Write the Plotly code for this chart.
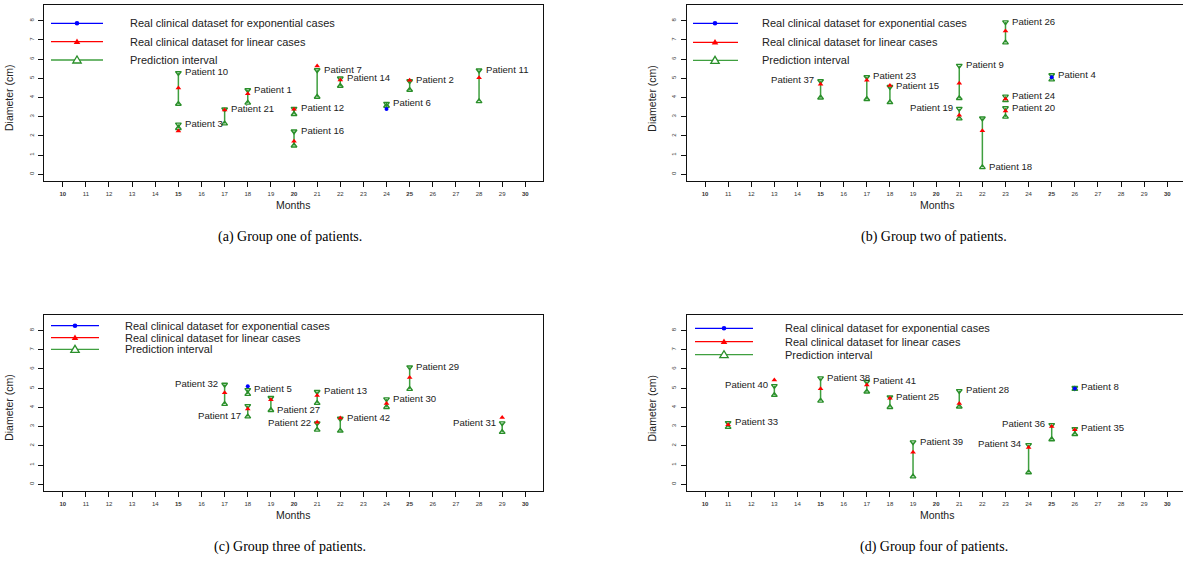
import plotly.graph_objects as go

W, H = 1183, 567

# ---------------- data ----------------
months_ticks = list(range(10, 31))
y_ticks = list(range(0, 9))

patients_a = [10, 3, 21, 1, 12, 16, 7, 14, 6, 2, 11]
months_a = [15, 15, 17, 18, 20, 20, 21, 22, 24, 25, 28]
lower_a = [3.66, 2.40, 2.64, 3.72, 3.13, 1.49, 4.03, 4.60, 3.56, 4.39, 3.80]
upper_a = [5.28, 2.60, 3.39, 4.39, 3.42, 2.24, 5.43, 5.00, 3.68, 4.86, 5.42]
real_a = [4.50, 2.26, 3.35, 4.20, 3.39, 1.72, 5.64, 4.91, 3.40, 4.90, 5.03]
model_a = ["lin", "lin", "lin", "lin", "lin", "lin", "lin", "lin", "exp", "lin", "lin"]

patients_b = [37, 23, 15, 9, 19, 18, 26, 24, 20, 4]
months_b = [15, 17, 18, 21, 21, 22, 23, 23, 23, 25]
lower_b = [3.99, 3.91, 3.75, 3.96, 2.90, 0.36, 6.86, 3.85, 2.99, 4.93]
upper_b = [4.86, 5.07, 4.56, 5.66, 3.42, 2.92, 7.93, 4.06, 3.45, 5.17]
real_b = [4.69, 4.90, 4.62, 4.74, 3.07, 2.27, 7.47, 3.92, 3.30, 5.05]
model_b = ["lin", "lin", "lin", "lin", "lin", "lin", "lin", "lin", "lin", "exp"]

patients_c = [32, 5, 17, 27, 13, 22, 42, 30, 29, 31]
months_c = [17, 18, 18, 19, 21, 21, 22, 24, 25, 29]
lower_c = [4.17, 4.69, 3.52, 3.85, 4.22, 2.83, 2.78, 4.01, 4.95, 2.71]
upper_c = [5.19, 4.91, 4.08, 4.50, 4.81, 3.18, 3.42, 4.43, 6.09, 3.18]
real_c = [4.76, 5.10, 3.91, 4.39, 4.62, 3.23, 3.45, 4.20, 5.56, 3.47]
model_c = ["lin", "exp", "lin", "lin", "lin", "lin", "lin", "lin", "lin", "lin"]

patients_d = [33, 40, 38, 41, 25, 39, 28, 34, 36, 35, 8]
months_d = [11, 13, 15, 17, 18, 19, 21, 24, 25, 26, 26]
lower_d = [2.97, 4.64, 4.34, 4.81, 4.01, 0.40, 4.03, 0.61, 2.33, 2.60, 4.95]
upper_d = [3.19, 5.12, 5.52, 5.33, 4.53, 2.19, 4.86, 2.05, 3.09, 2.88, 5.02]
real_d = [3.09, 5.42, 4.97, 5.16, 4.48, 1.67, 4.20, 1.91, 3.00, 2.83, 4.98]
model_d = ["lin", "lin", "lin", "lin", "lin", "lin", "lin", "lin", "lin", "lin", "exp"]

captions = ["(a) Group one of patients.", "(b) Group two of patients.",
            "(c) Group three of patients.", "(d) Group four of patients."]
legend_labels = ["Real clinical dataset for exponential cases",
                 "Real clinical dataset for linear cases",
                 "Prediction interval"]

# label placement (layout only)
LEFT_LABELS = {37, 19, 32, 17, 22, 31, 40, 34, 36}
LOWER_LABELS = {18, 17, 27}

groups = [
    (patients_a, months_a, lower_a, upper_a, real_a, model_a),
    (patients_b, months_b, lower_b, upper_b, real_b, model_b),
    (patients_c, months_c, lower_c, upper_c, real_c, model_c),
    (patients_d, months_d, lower_d, upper_d, real_d, model_d),
]

# ---------------- layout geometry (pixels) ----------------
# (left, right, top, bottom, xmin, xmax)
panels = [
    (44, 543, 5, 181, 9.19, 30.765),
    (686.7, 1183, 5, 181, 9.208, 30.68),
    (44, 543, 314.7, 491, 9.19, 30.765),
    (686.7, 1183, 314.7, 491, 9.208, 30.68),
]
YR = [-0.35, 8.82]

GREEN = "#2a8f2a"
GREEN_LINE = "#3f9f3f"
RED = "#ff0000"
BLUE = "#0000ff"
FONT = "Liberation Sans, Arial, sans-serif"


def px(x):
    return x / W


def py(y):
    return 1 - y / H


fig = go.Figure()
layout = {}
annotations = []
shapes = []

ticktext = [f"<b>{m}</b>" if m % 5 == 0 else str(m) for m in months_ticks]

for i, ((pats, mon, lo, up, real, model), (l, r, t, b, xmin, xmax)) in enumerate(zip(groups, panels), start=1):
    xa = f"x{i}" if i > 1 else "x"
    ya = f"y{i}" if i > 1 else "y"
    xkey = f"xaxis{i}" if i > 1 else "xaxis"
    ykey = f"yaxis{i}" if i > 1 else "yaxis"
    layout[xkey] = dict(
        domain=[px(l), min(px(r), 1.0)], anchor=ya, range=[xmin, xmax],
        tickmode="array", tickvals=months_ticks, ticktext=ticktext,
        ticks="outside", ticklen=5, tickwidth=1, tickcolor="#111",
        tickfont=dict(family=FONT, size=6, color="#333"),
        showline=True, linecolor="#111", linewidth=1, mirror=True,
        showgrid=False, zeroline=False, ticklabelstandoff=2,
    )
    layout[ykey] = dict(
        domain=[py(b), py(t)], anchor=xa, range=YR,
        tickmode="array", tickvals=y_ticks, ticktext=[str(v) for v in y_ticks],
        ticks="outside", ticklen=5, tickwidth=1, tickcolor="#111",
        tickangle=-90,
        tickfont=dict(family=FONT, size=6, color="#333"),
        showline=True, linecolor="#111", linewidth=1, mirror=True,
        showgrid=False, zeroline=False, ticklabelstandoff=2,
    )

    # interval segments
    sx, sy = [], []
    for m, a, c in zip(mon, lo, up):
        sx += [m, m, None]
        sy += [a, c, None]
    fig.add_trace(go.Scatter(x=sx, y=sy, mode="lines", xaxis=xa, yaxis=ya,
                             line=dict(color=GREEN_LINE, width=1.5),
                             showlegend=False, hoverinfo="skip"))
    fig.add_trace(go.Scatter(x=mon, y=up, mode="markers", xaxis=xa, yaxis=ya,
                             marker=dict(symbol="triangle-down-open", size=5,
                                         color=GREEN, line=dict(width=1.4, color=GREEN)),
                             showlegend=False))
    fig.add_trace(go.Scatter(x=mon, y=lo, mode="markers", xaxis=xa, yaxis=ya,
                             marker=dict(symbol="triangle-up-open", size=5,
                                         color=GREEN, line=dict(width=1.4, color=GREEN)),
                             showlegend=False))
    lin_x = [m for m, k in zip(mon, model) if k == "lin"]
    lin_y = [v for v, k in zip(real, model) if k == "lin"]
    exp_x = [m for m, k in zip(mon, model) if k == "exp"]
    exp_y = [v for v, k in zip(real, model) if k == "exp"]
    fig.add_trace(go.Scatter(x=lin_x, y=lin_y, mode="markers", xaxis=xa, yaxis=ya,
                             marker=dict(symbol="triangle-up", size=5, color=RED,
                                         line=dict(width=0)),
                             showlegend=False))
    fig.add_trace(go.Scatter(x=exp_x, y=exp_y, mode="markers", xaxis=xa, yaxis=ya,
                             marker=dict(symbol="circle", size=4, color=BLUE,
                                         line=dict(width=0)),
                             showlegend=False))

    # patient labels
    for p, m, a, c in zip(pats, mon, lo, up):
        left = p in LEFT_LABELS
        yv = a if p in LOWER_LABELS else c
        annotations.append(dict(
            x=m, y=yv, xref=xa, yref=ya, text=f"Patient {p}", showarrow=False,
            xanchor="right" if left else "left", yanchor="middle",
            xshift=-4.5 if left else 4.5, yshift=1,
            font=dict(family=FONT, size=9.6, color="#222"),
        ))

    # axis titles
    cx = (l + min(r, 1183 if i in (2, 4) else r)) / 2
    cx = 293 if i in (1, 3) else 937
    annotations.append(dict(x=px(cx), y=py(b + 24), xref="paper", yref="paper",
                            text="Months", showarrow=False, xanchor="center", yanchor="middle",
                            font=dict(family=FONT, size=10.5, color="#222")))
    annotations.append(dict(x=px(l - 35), y=py((t + b) / 2 + 5), xref="paper", yref="paper",
                            text="Diameter (cm)", showarrow=False, textangle=-90,
                            xanchor="center", yanchor="middle",
                            font=dict(family=FONT, size=10.5, color="#222")))
    # caption
    cap_y = 237 if i in (1, 2) else 547
    annotations.append(dict(x=px(cx - 3), y=py(cap_y), xref="paper", yref="paper",
                            text=captions[i - 1], showarrow=False, xanchor="center",
                            yanchor="middle",
                            font=dict(family="Liberation Serif, Times New Roman, serif",
                                      size=14, color="#000")))

# ---------------- manual legends ----------------
# (line x0, line x1, marker x, text x, row ys)
legend_specs = [
    (51, 103, 77, 128, [23.3, 41.7, 60.0]),
    (693, 738, 715, 760, [23.3, 42.3, 60.3]),
    (51, 99, 75, 123, [325.7, 337.7, 349.3]),
    (695, 753, 724, 782.7, [328.3, 341.7, 354.7]),
]
leg_colors = [BLUE, RED, GREEN_LINE]


def tri_path(cx, cy, hw, h):
    pts = [(cx - hw, cy + h / 2), (cx + hw, cy + h / 2), (cx, cy - h / 2)]
    return "M" + " L".join(f"{px(x):.5f},{py(y):.5f}" for x, y in pts) + " Z"


for (x0, x1, mx, tx, rows) in legend_specs:
    for k, (ry, lab) in enumerate(zip(rows, legend_labels)):
        shapes.append(dict(type="line", xref="paper", yref="paper",
                           x0=px(x0), x1=px(x1), y0=py(ry), y1=py(ry),
                           line=dict(color=leg_colors[k], width=1.3)))
        if k == 0:
            shapes.append(dict(type="circle", xref="paper", yref="paper",
                               x0=px(mx - 2.3), x1=px(mx + 2.3), y0=py(ry + 2.3), y1=py(ry - 2.3),
                               fillcolor=BLUE, line=dict(width=0)))
        elif k == 1:
            shapes.append(dict(type="path", xref="paper", yref="paper",
                               path=tri_path(mx, ry - 0.5, 3.3, 5.5),
                               fillcolor=RED, line=dict(width=0)))
        else:
            shapes.append(dict(type="path", xref="paper", yref="paper",
                               path=tri_path(mx, ry - 0.5, 4.2, 7),
                               fillcolor="white", line=dict(color=GREEN, width=1.3)))
        annotations.append(dict(x=px(tx), y=py(ry), xref="paper", yref="paper",
                                text=lab, showarrow=False, xanchor="left", yanchor="middle",
                                font=dict(family=FONT, size=11, color="#222")))

fig.update_layout(**layout)
fig.update_layout(
    width=W, height=H, margin=dict(l=0, r=0, t=0, b=0),
    paper_bgcolor="white", plot_bgcolor="white",
    showlegend=False, annotations=annotations, shapes=shapes,
    font=dict(family=FONT),
)

fig.write_html("out.html")
